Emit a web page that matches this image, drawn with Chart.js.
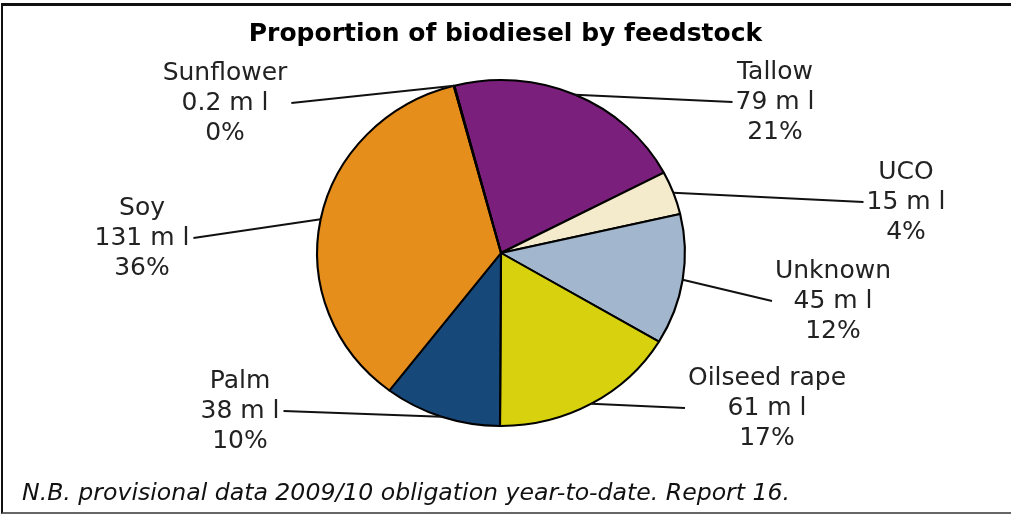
<!DOCTYPE html>
<html>
<head>
<meta charset="utf-8">
<script src="https://cdn.jsdelivr.net/npm/chart.js@4.4.1/dist/chart.umd.min.js"></script>
<style>
  html, body { margin: 0; padding: 0; background: #fff; }
  #frame {
    position: absolute; left: 1px; top: 3px; width: 1012px; height: 511px;
    border-left: 2px solid #111; border-top: 3px solid #111; border-bottom: 2px solid #666;
    box-sizing: border-box;
  }
  #title {
    position: absolute; left: 0; width: 1011px; top: 18px; text-align: center;
    font: bold 25px "DejaVu Sans", Verdana, sans-serif; color: #000;
  }
  #note {
    position: absolute; left: 22px; top: 478px;
    font: italic 23.6px "DejaVu Sans", Verdana, sans-serif; color: #111;
  }
  canvas { position: absolute; left: 0; top: 0; }
</style>
</head>
<body>
<div id="frame"></div>
<canvas id="chart" width="1011" height="516"></canvas>
<div id="title">Proportion of biodiesel by feedstock</div>
<div id="note">N.B. provisional data 2009/10 obligation year-to-date. Report 16.</div>
<script>
// data
const feedstocks = ['Tallow', 'UCO', 'Unknown', 'Oilseed rape', 'Palm', 'Soy', 'Sunflower'];
const volumes = [79, 15, 45, 61, 38, 131, 0.2];        // million litres
const volumeLabels = ['79', '15', '45', '61', '38', '131', '0.2'];
const percentLabels = ['21%', '4%', '12%', '17%', '10%', '36%', '0%'];

const colours = ['#7A1F7C', '#F3EBCB', '#A2B7CD', '#D7D20D', '#17487A', '#E68E1C', '#C8B000'];

// label block centres (x, y of middle line) and side of the pie
const labelSpots = [
  [775, 102, 'r'], [906, 202, 'r'], [833, 301, 'r'], [767, 408, 'r'],
  [240, 411, 'l'], [142, 238, 'l'], [225, 103, 'l']
];

const stretchX = 1.063;   // the original pie is slightly wider than tall

const ellipse = {
  id: 'ellipse',
  beforeDatasetsDraw(chart) {
    const arc = chart.getDatasetMeta(0).data[0];
    const ctx = chart.ctx;
    ctx.save();
    ctx.translate(arc.x, arc.y);
    ctx.scale(stretchX, 1);
    ctx.translate(-arc.x, -arc.y);
  },
  afterDatasetsDraw(chart) {
    chart.ctx.restore();
  }
};

const sliceLabels = {
  id: 'sliceLabels',
  afterDraw(chart) {
    const ctx = chart.ctx;
    const arcs = chart.getDatasetMeta(0).data;
    ctx.save();
    ctx.font = '25px "DejaVu Sans", Verdana, sans-serif';
    ctx.fillStyle = '#222';
    ctx.textAlign = 'center';
    ctx.textBaseline = 'middle';
    arcs.forEach((arc, i) => {
      const [cx, cy, side] = labelSpots[i];
      const lines = [feedstocks[i], volumeLabels[i] + ' m l', percentLabels[i]];
      const w = Math.max(...lines.map(t => ctx.measureText(t).width));
      lines.forEach((t, k) => ctx.fillText(t, cx, cy + (k - 1) * 30));

      const mid = (arc.startAngle + arc.endAngle) / 2;
      const ax = arc.x + Math.cos(mid) * arc.outerRadius * stretchX;
      const ay = arc.y + Math.sin(mid) * arc.outerRadius;
      const ex = side === 'r' ? cx - w / 2 - 3 : cx + w / 2 + 4;
      ctx.beginPath();
      ctx.strokeStyle = '#111';
      ctx.lineWidth = 2;
      ctx.moveTo(ax, ay);
      ctx.lineTo(ex, cy);
      ctx.stroke();
    });
    ctx.restore();
  }
};

new Chart(document.getElementById('chart'), {
  type: 'pie',
  data: {
    labels: feedstocks,
    datasets: [{
      data: volumes,
      backgroundColor: colours,
      borderColor: '#000',
      borderWidth: 2
    }]
  },
  options: {
    responsive: false,
    animation: false,
    rotation: -14.7,
    layout: { padding: { top: 79, bottom: 89, left: 300, right: 309 } },
    plugins: {
      legend: { display: false },
      tooltip: { enabled: false },
      title: { display: false }
    }
  },
  plugins: [ellipse, sliceLabels]
});
</script>
</body>
</html>
